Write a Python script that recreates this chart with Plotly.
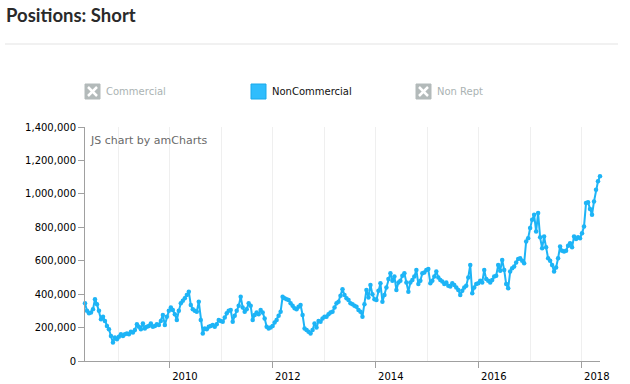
import pandas as pd
import plotly.graph_objects as go

# ---- data (NonCommercial short positions) ----
first_date = "2008-05-09"
last_date = "2018-05-10"
noncommercial = [
    345, 300, 285, 290, 310, 370, 340, 300, 250, 265, 240, 210, 190,
    150, 110, 140, 130, 145, 160, 150, 160, 165, 160, 175, 170, 185,
    220, 205, 190, 225, 195, 205, 210, 225, 205, 210, 220, 215, 240,
    275, 215, 265, 300, 320, 305, 280, 245, 300, 345, 360, 375, 395,
    415, 335, 310, 300, 295, 355, 245, 165, 195, 190, 205, 210, 215,
    205, 220, 245, 240, 235, 260, 285, 300, 305, 235, 270, 300, 330,
    385, 320, 295, 310, 345, 330, 245, 275, 290, 280, 305, 290, 255,
    205, 195, 200, 210, 230, 245, 270, 295, 385, 375, 370, 365, 345,
    330, 315, 310, 325, 335, 275, 195, 185, 175, 165, 185, 225, 200,
    240, 235, 255, 265, 265, 280, 290, 295, 320, 345, 355, 390, 430,
    395, 375, 365, 345, 340, 330, 325, 305, 295, 265, 340, 425, 380,
    455, 400, 370, 365, 420, 465, 355, 395, 440, 490, 525, 480, 505,
    425, 470, 480, 510, 525, 470, 415, 470, 485, 505, 545, 460, 480,
    525, 530, 545, 550, 465, 480, 505, 535, 500, 485, 475, 460, 470,
    450, 445, 465, 455, 440, 425, 395, 420, 440, 450, 500, 575, 405,
    440, 460, 465, 480, 470, 545, 490, 480, 470, 485, 505, 510, 575,
    540, 605, 545, 460, 435, 535, 555, 565, 590, 610, 615, 600, 585,
    715, 735, 795, 845, 875, 775, 885, 740, 675, 745, 680, 615, 600,
    575, 535, 560, 615, 685, 660, 655, 660, 690, 705, 680, 745, 730,
    740, 735, 765, 805, 945, 950, 910, 875, 955, 1025, 1075, 1105,
]
legend_names = ["Commercial", "NonCommercial", "Non Rept"]
legend_enabled = [False, True, False]
y_ticks = [0, 200000, 400000, 600000, 800000, 1000000, 1200000, 1400000]

dates = pd.date_range(first_date, last_date, periods=len(noncommercial))
values = [v * 1000 for v in noncommercial]

BLUE = "#1db4f6"
W, H = 630, 384
L, R, T, B = 85, 30, 127, 23
PW, PH = W - L - R, H - T - B


def px(x):
    return (x - L) / PW


def py(y):
    return (H - B - y) / PH


fig = go.Figure()
fig.add_trace(go.Scatter(
    x=dates, y=values, mode="lines+markers", name="NonCommercial",
    line=dict(color=BLUE, width=2),
    marker=dict(color=BLUE, size=4.5),
    cliponaxis=False, showlegend=False,
))

shapes = [
    dict(type="line", xref="paper", yref="paper", x0=px(5), x1=px(618),
         y0=py(44), y1=py(44), line=dict(color="#ececec", width=1.5)),
]
annotations = [
    dict(text="JS chart by amCharts", xref="paper", yref="paper",
         x=px(88), y=py(140), xanchor="left", yanchor="middle", showarrow=False,
         font=dict(family="DejaVu Sans", size=11, color="#6a6a6a")),
]

legend_x = [85, 251, 416]
GREY = "#b3baba"
for name, enabled, lx in zip(legend_names, legend_enabled, legend_x):
    x0, x1, y0, y1 = lx, lx + 15, 84, 99
    if enabled:
        shapes.append(dict(type="rect", xref="paper", yref="paper",
                           x0=px(x0), x1=px(x1), y0=py(y1), y1=py(y0),
                           fillcolor="#2fbdfd", line=dict(color="#1aa9ea", width=1)))
        tcol = "#111111"
    else:
        shapes.append(dict(type="rect", xref="paper", yref="paper",
                           x0=px(x0), x1=px(x1), y0=py(y1), y1=py(y0),
                           fillcolor=GREY, line=dict(color=GREY, width=1)))
        shapes.append(dict(type="line", xref="paper", yref="paper",
                           x0=px(x0 + 3), x1=px(x1 - 3), y0=py(y0 + 3), y1=py(y1 - 3),
                           line=dict(color="white", width=2.5)))
        shapes.append(dict(type="line", xref="paper", yref="paper",
                           x0=px(x0 + 3), x1=px(x1 - 3), y0=py(y1 - 3), y1=py(y0 + 3),
                           line=dict(color="white", width=2.5)))
        tcol = "#aab3b3"
    annotations.append(dict(text=name, xref="paper", yref="paper",
                            x=px(x1 + 4), y=py(91.5), xanchor="left", yanchor="middle",
                            showarrow=False,
                            font=dict(family="DejaVu Sans", size=10, color=tcol)))

fig.update_layout(
    width=W, height=H, autosize=False,
    margin=dict(l=L, r=R, t=T, b=B, autoexpand=False),
    paper_bgcolor="white", plot_bgcolor="white",
    title=dict(text="<b>Positions: Short</b>", x=6 / W, xanchor="left",
               y=1 - 16 / H, yanchor="middle", xref="container", yref="container",
               font=dict(family="Lato", size=18.5, color="#2a2a2a")),
    shapes=shapes, annotations=annotations,
    showlegend=False,
    hovermode=False,
    xaxis=dict(
        type="date", range=[dates[0], dates[-1]],
        tick0="2010-01-01", dtick="M24", tickformat="%Y",
        showgrid=True, gridcolor="#efefef", gridwidth=1,
        minor=dict(dtick="M12", showgrid=True, gridcolor="#efefef", ticks=""),
        showline=True, linecolor="#a0a0a0", linewidth=1,
        ticks="outside", ticklen=6, tickcolor="#a0a0a0",
        ticklabelshift=15, zeroline=False,
        tickfont=dict(family="DejaVu Sans", size=10, color="#000000"),
        automargin=False, fixedrange=True,
    ),
    yaxis=dict(
        range=[0, 1400000], tickvals=y_ticks, tickformat=",d",
        showgrid=False, zeroline=False,
        showline=True, linecolor="#a0a0a0", linewidth=1,
        ticks="outside", ticklen=6, tickcolor="#a0a0a0",
        tickfont=dict(family="DejaVu Sans", size=10, color="#000000"),
        automargin=False, fixedrange=True,
    ),
)

fig.write_html(
    "out.html",
    config={"displayModeBar": False, "staticPlot": True},
    post_script="document.body.style.margin='0';document.body.style.overflow='hidden';",
)
